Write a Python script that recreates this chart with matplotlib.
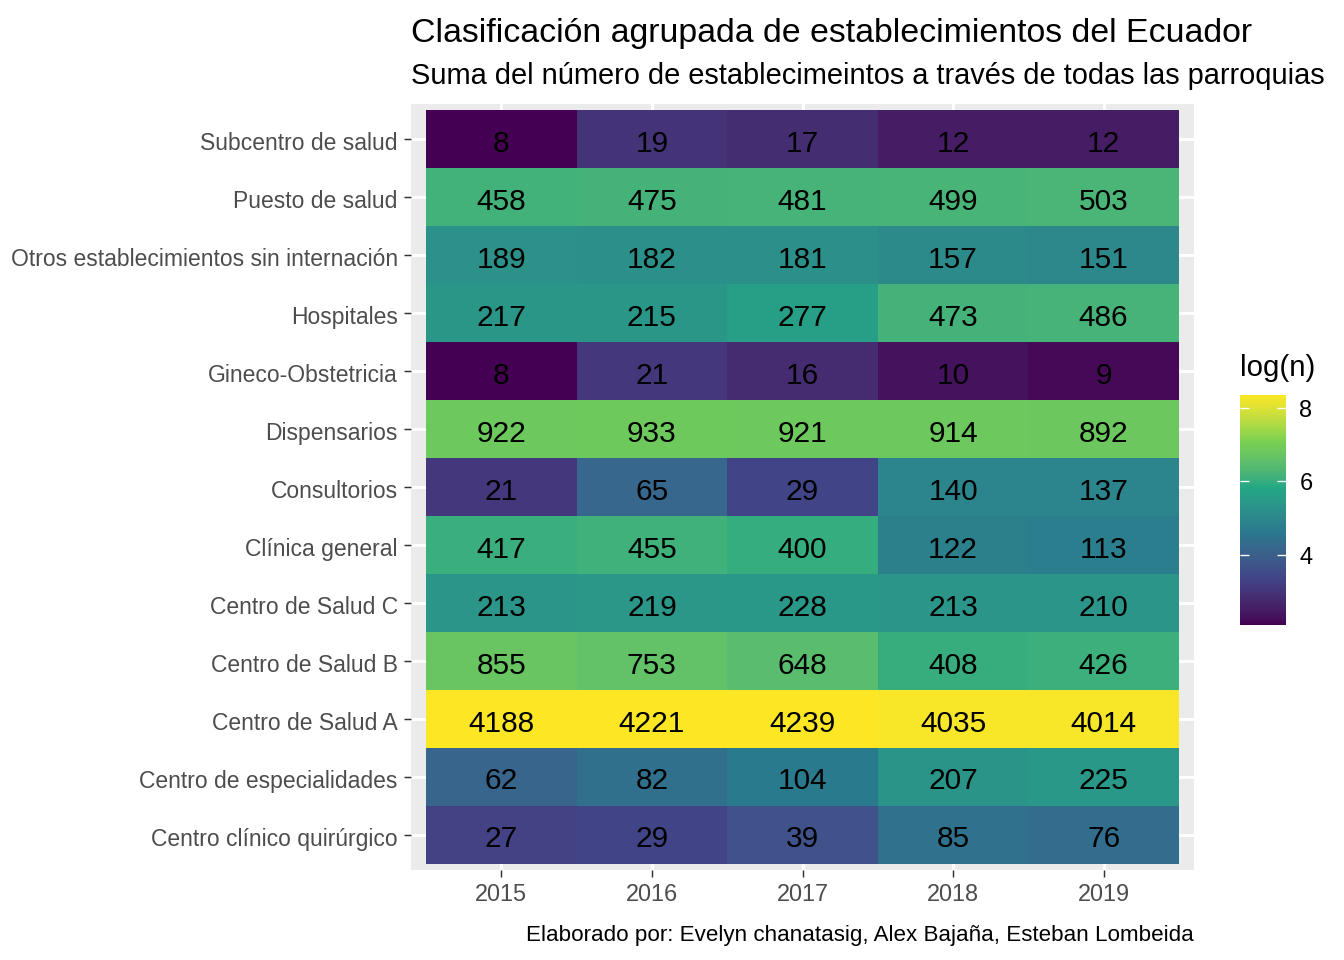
import numpy as np
import matplotlib
matplotlib.use("Agg")
import matplotlib.pyplot as plt
import matplotlib.transforms as mtransforms
from matplotlib.colors import Normalize, ListedColormap

plt.rcParams['font.family'] = ['Liberation Sans', 'DejaVu Sans']

years = ["2015", "2016", "2017", "2018", "2019"]
# filas de abajo hacia arriba
tipos = ["Centro clínico quirúrgico", "Centro de especialidades", "Centro de Salud A",
         "Centro de Salud B", "Centro de Salud C", "Clínica general", "Consultorios",
         "Dispensarios", "Gineco-Obstetricia", "Hospitales",
         "Otros establecimientos sin internación", "Puesto de salud", "Subcentro de salud"]
quirurgico = [27, 29, 39, 85, 76]
especialidades = [62, 82, 104, 207, 225]
salud_a = [4188, 4221, 4239, 4035, 4014]
salud_b = [855, 753, 648, 408, 426]
salud_c = [213, 219, 228, 213, 210]
clinica = [417, 455, 400, 122, 113]
consultorios = [21, 65, 29, 140, 137]
dispensarios = [922, 933, 921, 914, 892]
gineco = [8, 21, 16, 10, 9]
hospitales = [217, 215, 277, 473, 486]
otros = [189, 182, 181, 157, 151]
puesto = [458, 475, 481, 499, 503]
subcentro = [8, 19, 17, 12, 12]

n = np.array([quirurgico, especialidades, salud_a, salud_b, salud_c, clinica, consultorios,
              dispensarios, gineco, hospitales, otros, puesto, subcentro])
logn = np.log(n)


# viridis como en ggplot: 6 colores interpolados en espacio Lab
def hex2rgb(h):
    return np.array([int(h[i:i + 2], 16) for i in (1, 3, 5)]) / 255.0

def rgb2lab(c):
    c = np.where(c > 0.04045, ((c + 0.055) / 1.055) ** 2.4, c / 12.92)
    M = np.array([[0.4124, 0.3576, 0.1805], [0.2126, 0.7152, 0.0722], [0.0193, 0.1192, 0.9505]])
    xyz = M @ c / np.array([0.95047, 1.0, 1.08883])
    f = np.where(xyz > 0.008856, np.cbrt(xyz), 7.787 * xyz + 16 / 116)
    return np.array([116 * f[1] - 16, 500 * (f[0] - f[1]), 200 * (f[1] - f[2])])

def lab2rgb(lab):
    fy = (lab[1 - 1] + 16) / 116
    fx = fy + lab[1] / 500
    fz = fy - lab[2] / 200
    f = np.array([fx, fy, fz])
    xyz = np.where(f ** 3 > 0.008856, f ** 3, (f - 16 / 116) / 7.787) * np.array([0.95047, 1.0, 1.08883])
    Mi = np.array([[3.2406, -1.5372, -0.4986], [-0.9689, 1.8758, 0.0415], [0.0557, -0.2040, 1.0570]])
    c = Mi @ xyz
    c = np.where(c > 0.0031308, 1.055 * np.clip(c, 0, None) ** (1 / 2.4) - 0.055, 12.92 * c)
    return np.clip(c, 0, 1)

vir6 = ["#440154", "#414487", "#2A788E", "#22A884", "#7AD151", "#FDE725"]
labs = [rgb2lab(hex2rgb(h)) for h in vir6]
cols = []
for t in np.linspace(0, 1, 256):
    s = t * (len(labs) - 1)
    k = min(int(s), len(labs) - 2)
    u = s - k
    cols.append(lab2rgb((1 - u) * labs[k] + u * labs[k + 1]))
gg_viridis = ListedColormap(cols)

W, H = 1344, 960
fig = plt.figure(figsize=(7, 5), dpi=192)

def box(x0, y0, x1, y1):
    return [x0 / W, 1 - y1 / H, (x1 - x0) / W, (y1 - y0) / H]

ax = fig.add_axes(box(411, 104, 1194, 870))
ax.set_facecolor('#EBEBEB')
for s in ax.spines.values():
    s.set_visible(False)

norm = Normalize(vmin=logn.min(), vmax=logn.max())
xe = np.arange(len(years) + 1) + 0.5
ye = np.arange(len(tipos) + 1) + 0.5
mesh = ax.pcolormesh(xe, ye, logn, cmap=gg_viridis, norm=norm, zorder=2)

fs_tile = 11.2
for i in range(len(tipos)):
    for j in range(len(years)):
        ax.annotate(str(n[i, j]), (j + 1, i + 1), xytext=(0, -fs_tile * 0.36 - 0.75),
                    textcoords='offset points', ha='center', va='baseline',
                    fontsize=fs_tile, color='black', zorder=3)

ax.set_xlim(0.4, 5.6)
ax.set_ylim(0.39, 13.61)
ax.set_xticks(range(1, len(years) + 1))
ax.set_xticklabels(years)
ax.set_yticks(range(1, len(tipos) + 1))
ax.set_yticklabels(tipos)
ax.grid(True, color='white', linewidth=1.1, zorder=1)
ax.set_axisbelow(True)
ax.tick_params(axis='both', length=2.75, width=0.55, color='#333333',
               labelcolor='#4D4D4D', pad=2.2)
ax.tick_params(axis='x', labelsize=8.8)
ax.tick_params(axis='y', labelsize=8.6)
shift = mtransforms.ScaledTranslation(0, -2 / 192, fig.dpi_scale_trans)
for lbl in ax.get_yticklabels():
    lbl.set_va('center_baseline')
    lbl.set_transform(lbl.get_transform() + shift)

cax = fig.add_axes(box(1240, 395, 1286, 625))
cb = fig.colorbar(mesh, cax=cax, ticks=[4, 6, 8])
cb.outline.set_visible(False)
cax.yaxis.set_ticks_position('both')
cax.tick_params(direction='in', length=3.4, width=0.5, color='white',
                labelsize=8.8, labelcolor='black', pad=5, left=True, right=True,
                labelleft=False, labelright=True)

fig.text(1240 / W, 1 - 376 / H, "log(n)", fontsize=11, va='baseline', ha='left')

fig.text(411 / W, 1 - 42 / H, "Clasificación agrupada de establecimientos del Ecuador",
         fontsize=12.7, va='baseline', ha='left')
fig.text(411 / W, 1 - 84 / H, "Suma del número de establecimeintos a través de todas las parroquias",
         fontsize=10.9, va='baseline', ha='left')
fig.text(1194 / W, 1 - 941 / H, "Elaborado por: Evelyn chanatasig, Alex Bajaña, Esteban Lombeida",
         fontsize=8.4, va='baseline', ha='right')

fig.savefig("out.png", dpi=192)
